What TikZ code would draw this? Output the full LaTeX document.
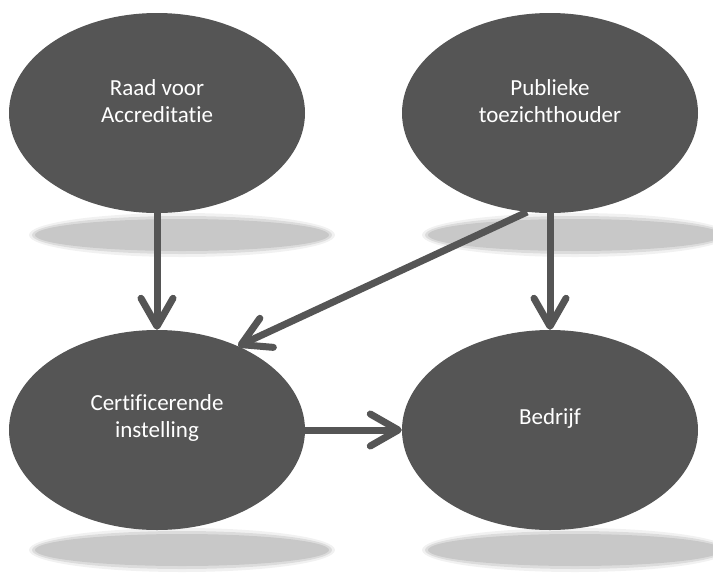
\documentclass[tikz,border=0pt]{standalone}
\usepackage{fontspec}
\setmainfont{Carlito}[Ligatures=NoCommon]
\usetikzlibrary{arrows.meta,shapes.geometric}
\definecolor{blobgray}{HTML}{555555}
\definecolor{shadowgray}{HTML}{C8C8C8}

\begin{document}
\begin{tikzpicture}[x=1pt, y=-1pt,
    blob/.style={ellipse, fill=blobgray, minimum width=296pt, minimum height=200pt, inner sep=0pt},
    lbl/.style={text=white, align=center, font=\fontsize{23}{27}\selectfont, yshift=12pt},
    link/.style={draw=blobgray, line width=7pt, -{Straight Barb[length=28pt, width=32pt, round]}}]
    \useasboundingbox (0,0) rectangle (713,574);
    % soft shadows under the ellipses
    \foreach \x/\y in {182/235, 575/235, 182/550, 575/550}
      \foreach \k/\o in {6/0.25, 3/0.5, 0/1}
        \fill[shadowgray, opacity=\o] (\x,\y) ellipse ({147+\k} and {16+\k});
    \node[blob, label={[lbl]center:Raad voor\\Accreditatie}] (raad) at (157,113) {};
    \node[blob, label={[lbl]center:Publieke\\toezichthouder}] (pub) at (550,113) {};
    \node[blob, label={[lbl]center:Certificerende\\instelling}] (cert) at (157,430) {};
    \node[blob, label={[lbl]center:Bedrijf}] (bed) at (550,430) {};
    \draw[link] (raad) -- (cert);
    \draw[link] (pub) -- (bed);
    \draw[link] (pub.257) -- (cert.46);
    \draw[link] (cert) -- (bed);
\end{tikzpicture}
\end{document}
